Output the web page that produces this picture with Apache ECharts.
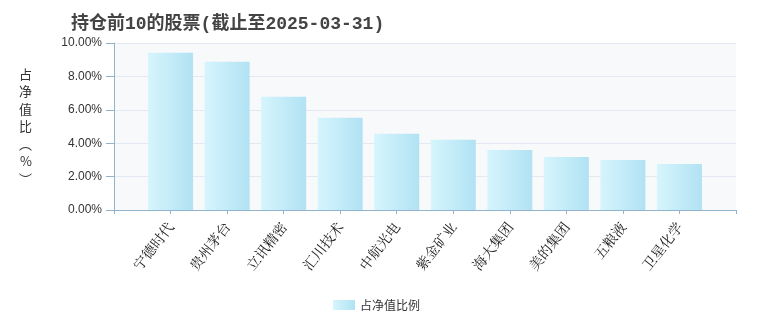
<!DOCTYPE html>
<html>
<head>
<meta charset="utf-8">
<script src="https://cdn.jsdelivr.net/npm/echarts@6/dist/echarts.min.js"></script>
<style>html,body{margin:0;padding:0;background:#fff}#c{width:760px;height:330px}</style>
</head>
<body>
<div id="c"></div>
<script>
var titleText = '持仓前10的股票(截止至2025-03-31)';
var categories = ['宁德时代','贵州茅台','立讯精密','汇川技术','中航光电','紫金矿业','海大集团','美的集团','五粮液','卫星化学'];
var values = [9.42, 8.88, 6.78, 5.52, 4.56, 4.20, 3.60, 3.18, 3.00, 2.76];
var yTicks = [0, 2, 4, 6, 8, 10];
var seriesName = '占净值比例';
var yName = ['占','净','值','比','︵','%','︶'];

var axisCats = [''].concat(categories).concat(['']);
var axisVals = [null].concat(values).concat([null]);

var chart = echarts.init(document.getElementById('c'));
var barColor = new echarts.graphic.LinearGradient(0, 0, 1, 0, [
  {offset: 0, color: '#d6f5fd'},
  {offset: 1, color: '#b1e2f3'}
]);
chart.setOption({
  animation: false,
  title: {
    text: titleText,
    left: 66, top: 10,
    textStyle: {fontSize: 18, fontWeight: 'bold', color: '#444', fontFamily: 'Liberation Mono, Noto Sans CJK SC'}
  },
  legend: {
    bottom: 14, left: 328,
    itemWidth: 22, itemHeight: 10, itemGap: 6,
    textStyle: {fontSize: 12, color: '#333', fontFamily: 'Noto Sans CJK SC'},
    data: [{name: seriesName, icon: 'rect'}]
  },
  grid: {left: 114, right: 24, top: 43, bottom: 120, show: true, backgroundColor: '#f8f9fb', borderWidth: 0},
  xAxis: {
    type: 'category',
    data: axisCats,
    boundaryGap: false,
    axisLine: {lineStyle: {color: '#92b3cc'}},
    axisTick: {lineStyle: {color: '#92b3cc'}, length: 4},
    axisLabel: {rotate: 52, fontSize: 14, color: '#222', margin: 14, interval: 0, fontFamily: 'Noto Serif CJK SC, Noto Sans CJK SC'},
    splitLine: {show: false}
  },
  yAxis: {
    type: 'value',
    min: yTicks[0], max: yTicks[yTicks.length - 1], interval: 2,
    name: yName.join('\n'),
    nameLocation: 'middle',
    nameRotate: 0,
    nameGap: 82,
    nameTextStyle: {fontSize: 13, color: '#333', lineHeight: 17.5, fontFamily: 'Noto Sans CJK SC', padding: [0, 0, 12, 0]},
    axisLine: {show: true, lineStyle: {color: '#92b3cc'}},
    axisTick: {show: true, length: 8, lineStyle: {color: '#92b3cc'}},
    axisLabel: {fontSize: 12, color: '#333', margin: 12, formatter: function (v) { return v.toFixed(2) + '%'; }},
    splitLine: {lineStyle: {color: '#e4e8f0'}}
  },
  series: [{
    name: seriesName,
    type: 'bar',
    data: axisVals,
    barWidth: 45,
    itemStyle: {color: barColor}
  }]
});
</script>
</body>
</html>
